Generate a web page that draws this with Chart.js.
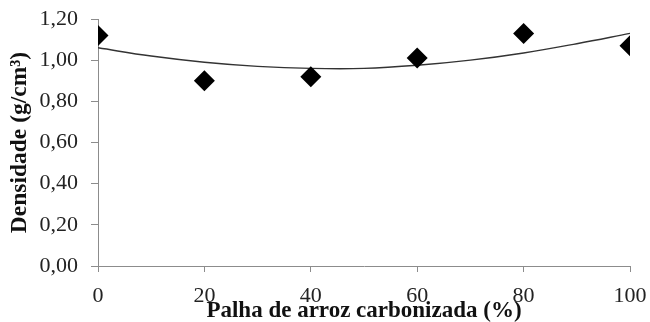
<!DOCTYPE html>
<html>
<head>
<meta charset="utf-8">
<script src="https://cdn.jsdelivr.net/npm/chart.js@4"></script>
<style>
  html, body { margin:0; padding:0; background:#fff; }
  #wrap { width:650px; height:322px; position:relative; }
</style>
</head>
<body>
<div id="wrap"><canvas id="chartDensidade"></canvas></div>
<script>
// valores
const palha     = [0, 20, 40, 60, 80, 100];
const densidade = [1.12, 0.90, 0.92, 1.01, 1.13, 1.07];

// linha de tendencia
const trendX = [0, 10, 20, 30, 40, 50, 60, 70, 80, 90, 100];
const trendY = [1.06, 1.02, 0.99, 0.97, 0.96, 0.96, 0.975, 1.00, 1.035, 1.08, 1.13];

const yTicks = [0, 0.2, 0.4, 0.6, 0.8, 1.0, 1.2];
const xTitle = 'Palha de arroz carbonizada (%)';
const yTitle = 'Densidade (g/cm³)';

const axisColor = '#8c8c8c';
const serif = "'Liberation Serif', 'DejaVu Serif', serif";

const pts = palha.map((x,i) => ({ x, y: densidade[i] }));
const trend = trendX.map((x,i) => ({ x, y: trendY[i] }));

new Chart(document.getElementById('chartDensidade'), {
  type: 'scatter',
  data: {
    datasets: [
      {
        label: 'trend', data: trend, showLine: true, tension: 0.4,
        borderColor: '#333', borderWidth: 1.4, pointRadius: 0, order: 2
      },
      {
        label: 'densidade', data: pts, pointStyle: 'rectRot', pointRadius: 10.5,
        backgroundColor: '#000', borderColor: '#000', borderWidth: 0, order: 1
      }
    ]
  },
  options: {
    responsive: true, maintainAspectRatio: false, animation: false,
    layout: { padding: { top: 19, right: 20, left: 0, bottom: 0 } },
    plugins: { legend: { display: false }, tooltip: { enabled: false } },
    scales: {
      x: {
        type: 'linear', min: 0, max: 100,
        afterFit: s => { s.height = 56; s.paddingLeft = 0; s.paddingRight = 0; },
        ticks: { stepSize: 20, color: '#222', padding: 11, font: { family: serif, size: 22 } },
        grid: { drawOnChartArea: false, drawTicks: true, tickLength: 6, color: axisColor },
        border: { color: axisColor, width: 1 },
        title: { display: true, text: xTitle, color: '#111', padding: { top: 0, bottom: -3 },
                 font: { family: serif, size: 23, weight: 'bold' } }
      },
      y: {
        min: 0, max: 1.2,
        afterBuildTicks: s => { s.ticks = yTicks.map(v => ({ value: v })); },
        afterFit: s => { s.width = 98; s.paddingTop = 0; s.paddingBottom = 0; },
        ticks: { color: '#222', padding: 13, font: { family: serif, size: 22 },
                 callback: v => v.toFixed(2).replace('.', ',') },
        grid: { drawOnChartArea: false, drawTicks: true, tickLength: 7, color: axisColor },
        border: { color: axisColor, width: 1 },
        title: { display: true, text: yTitle, color: '#111', padding: { top: 6, bottom: 0 },
                 font: { family: serif, size: 23.5, weight: 'bold' } }
      }
    }
  }
});
</script>
</body>
</html>
